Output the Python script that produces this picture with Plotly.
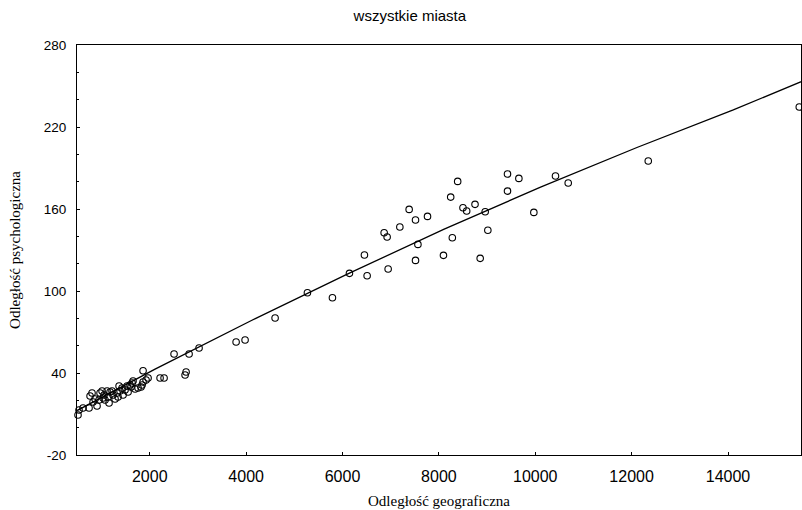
import plotly.graph_objects as go

# scatter data: geographic distance vs psychological distance
geo_dist = [511, 532, 615, 740, 761, 802, 864, 906, 968, 1010, 1051, 947, 1072, 1134, 1114,
            1155, 1217, 1238, 1321, 1280, 1342, 1383, 1425, 1487, 1529, 1550, 1591, 1653,
            1695, 1757, 1840, 1861, 1861, 1923, 1965, 1633, 1612, 2214, 2297, 2733, 2754,
            2504, 2816, 3023, 3792, 3978, 4601, 1819, 1363, 1446, 1176, 1031, 823,
            5272, 5791, 6144, 6455, 6511, 6947, 6864, 6926, 7190, 7383, 7515, 7764, 7565,
            7515, 8095, 8245, 8390, 8279, 8500, 8577, 8750, 8857, 8961, 9016, 9424, 9424,
            9660, 9971, 10420, 10684, 12345, 15479]
psych_dist = [9.3, 12.9, 14.4, 14.4, 23.2, 25.4, 21.0, 15.9, 25.4, 26.8, 23.9, 20.2, 20.2,
              22.4, 26.8, 18.1, 26.8, 23.9, 25.4, 21.0, 22.4, 26.8, 29.0, 27.6, 30.5, 26.1,
              31.2, 34.1, 28.3, 29.0, 31.2, 41.7, 33.4, 34.9, 36.3, 32.7, 29.8, 36.3, 36.3,
              38.5, 40.7, 53.9, 53.9, 58.3, 62.7, 64.1, 80.2, 29.8, 30.5, 23.9, 26.1, 21.7,
              18.8,
              98.7, 95.1, 112.9, 126.3, 111.2, 116.1, 142.6, 139.5, 146.8, 159.7, 151.9,
              154.6, 134.1, 122.4, 126.1, 168.7, 180.2, 139.0, 160.9, 158.5, 163.4, 123.9,
              158.0, 144.4, 185.6, 173.1, 182.4, 157.5, 184.1, 179.0, 195.1, 234.6]

# fitted curve
fit_x = [491, 2110, 4110, 6110, 8110, 10110, 12110, 14110, 15610]
fit_y = [12.5, 42.8, 78.4, 112.5, 145.3, 176.0, 205.0, 232.5, 254.5]

x_tick_vals = [2000, 4000, 6000, 8000, 10000, 12000, 14000]
x_tick_text = ["2000", "4000", "6000", "8000", "10000", "12000", "14000"]
y_tick_vals = [-20, 40, 100, 160, 220, 280]
y_tick_text = ["-20", "40", "100", "160", "220", "280"]

fig = go.Figure()
fig.add_trace(go.Scatter(
    x=fit_x, y=fit_y, mode="lines",
    line=dict(color="black", width=1.3),
    hoverinfo="skip", showlegend=False))
fig.add_trace(go.Scatter(
    x=geo_dist, y=psych_dist, mode="markers", cliponaxis=False,
    marker=dict(symbol="circle-open", size=6.5, color="black", line=dict(width=1.1)),
    showlegend=False))

sans = "Liberation Sans, Arial"
serif = "Liberation Serif, Times New Roman"

fig.update_layout(
    width=802, height=510,
    margin=dict(l=77, r=1, t=45, b=55, autoexpand=False),
    paper_bgcolor="white", plot_bgcolor="white",
    title=dict(text="wszystkie miasta", x=0.511, xanchor="center", y=0.97, yanchor="middle",
               font=dict(family=sans, size=15, color="black")),
    xaxis=dict(
        range=[490, 15515], tickvals=x_tick_vals, ticktext=x_tick_text,
        showgrid=False, zeroline=False, automargin=False,
        showline=True, linecolor="black", linewidth=1, mirror=True,
        ticks="inside", ticklen=3, tickcolor="black", ticklabelstandoff=7,
        tickfont=dict(family=sans, size=16, color="black"),
        title=dict(text="Odległość geograficzna",
                   font=dict(family=serif, size=15, color="black"),
                   standoff=11)),
    yaxis=dict(
        range=[-20, 280], tickvals=y_tick_vals, ticktext=y_tick_text,
        showgrid=False, zeroline=False, automargin=False,
        showline=True, linecolor="black", linewidth=1, mirror=True,
        ticks="inside", ticklen=3, tickcolor="black", ticklabelstandoff=7,
        minor=dict(dtick=20, ticks="inside", ticklen=2, tickcolor="black"),
        tickfont=dict(family=sans, size=13.5, color="black"),
        title=dict(text="Odległość psychologiczna",
                   font=dict(family=serif, size=15, color="black"),
                   standoff=19)),
)

fig.write_html("out.html", config={"displayModeBar": False},
               post_script="document.body.style.margin='0';")
